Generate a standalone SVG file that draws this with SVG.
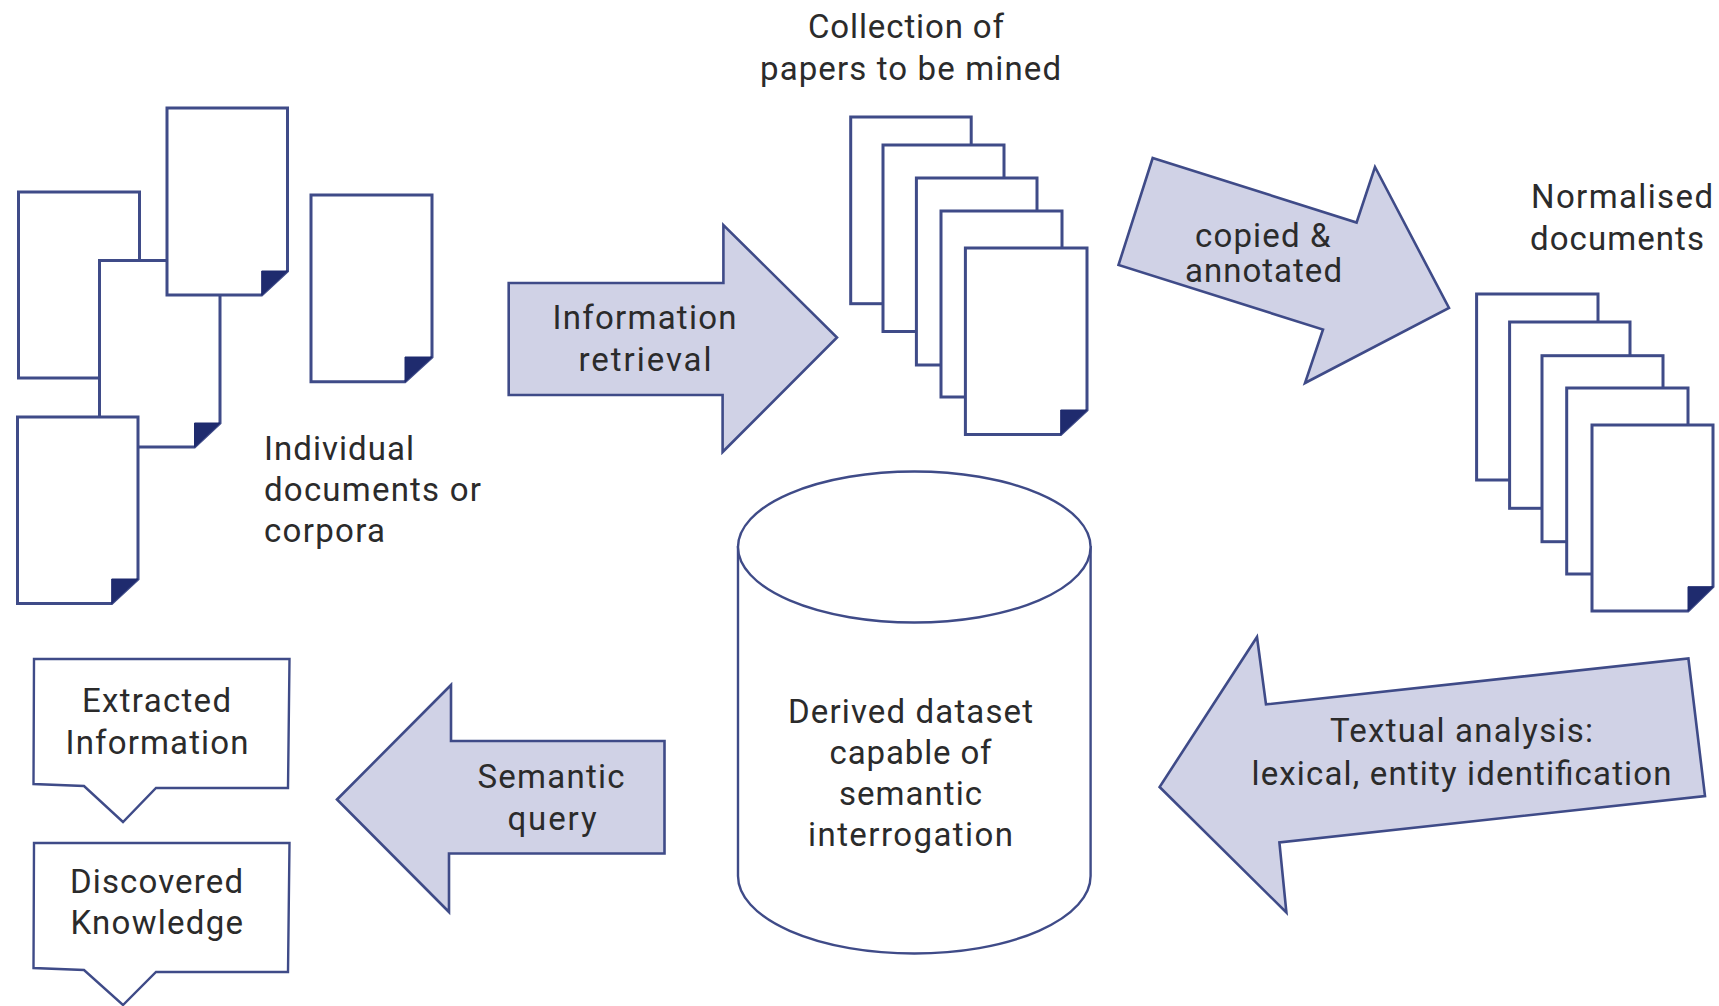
<svg xmlns="http://www.w3.org/2000/svg" width="1719" height="1006" viewBox="0 0 1719 1006">
<style>
.bg{fill:#fff}
.sheet{fill:#fff;stroke:#3f4b88;stroke-width:3;stroke-linejoin:miter}
.fold{fill:#1f2b6e;stroke:#1f2b6e;stroke-width:1}
.arrow{fill:#d0d2e6;stroke:#3f4b88;stroke-width:2.6;stroke-linejoin:miter}
.thin{fill:#fff;stroke:#3f4b88;stroke-width:2.4}
text{font-family:"Roboto","Liberation Sans",sans-serif;font-size:33px;fill:#2b2b2b}
</style>
<rect class="bg" width="1719" height="1006"/>
<g id="individual-documents">
<rect class="sheet" x="18.5" y="192" width="121" height="186"/>
<path class="sheet" d="M99.500 260.500H220V423L194.500 447H99.500Z"/><path class="fold" d="M194.500 423H220L194.500 447Z"/>
<path class="sheet" d="M167 108H287.500V271L261.700 295H167Z"/><path class="fold" d="M261.700 271H287.500L261.700 295Z"/>
<path class="sheet" d="M311 195H432V357L405 381.700H311Z"/><path class="fold" d="M405 357H432L405 381.700Z"/>
<path class="sheet" d="M17.500 416.900H138V579L111.700 603.500H17.500Z"/><path class="fold" d="M111.700 579H138L111.700 603.500Z"/>
<text x="264" y="459.500" textLength="150">Individual</text>
<text x="264" y="501" textLength="217">documents or</text>
<text x="264" y="542" textLength="121">corpora</text>
</g>
<g id="collection">
<text x="808" y="38" textLength="196">Collection of</text>
<text x="760" y="80" textLength="301">papers to be mined</text>
<rect class="sheet" x="850.700" y="117" width="120.500" height="186.700"/>
<rect class="sheet" x="883" y="145" width="121" height="186.500"/>
<rect class="sheet" x="916.400" y="178" width="120.600" height="187"/>
<rect class="sheet" x="941" y="211" width="121" height="186"/>
<path class="sheet" d="M965.400 248H1087V410L1060.700 434.500H965.400Z"/><path class="fold" d="M1060.700 410H1087L1060.700 434.500Z"/>
</g>
<g id="normalised">
<text x="1531" y="207.500" textLength="182">Normalised</text>
<text x="1530" y="250" textLength="174">documents</text>
<rect class="sheet" x="1476.600" y="294" width="121.400" height="186"/>
<rect class="sheet" x="1509.600" y="322" width="120.400" height="186.300"/>
<rect class="sheet" x="1542" y="355.700" width="121" height="186"/>
<rect class="sheet" x="1566.700" y="388" width="121.300" height="186"/>
<path class="sheet" d="M1592 425H1713V586.700L1688 611H1592Z"/><path class="fold" d="M1688 586.700H1713L1688 611Z"/>
</g>
<g id="dataset">
<path class="thin" d="M738 546V876A176.300 77.500 0 0 0 1090.600 876V546"/>
<ellipse class="thin" cx="914.300" cy="547" rx="176.300" ry="75.500"/>
<text x="788" y="723" textLength="245">Derived dataset</text>
<text x="829.600" y="764" textLength="162">capable of</text>
<text x="839" y="805" textLength="143">semantic</text>
<text x="808" y="846" textLength="205">interrogation</text>
</g>
<g id="extracted-information">
<path class="thin" d="M34 659H289.500L288 788H156L123 822L84 786L33.500 784Z"/>
<text x="82" y="712" textLength="149">Extracted</text>
<text x="65.500" y="754" textLength="183">Information</text>
</g>
<g id="discovered-knowledge">
<path class="thin" d="M34 843H289.500L288 972H156L123 1005L84 970L33.500 968Z"/>
<text x="70" y="893" textLength="173">Discovered</text>
<text x="70.500" y="934" textLength="172.500">Knowledge</text>
</g>
<g id="connectors">
<g id="information-retrieval">
<path class="arrow" d="M508.700 283H723.400V225L837 337.500L722.600 452V395H508.700Z"/>
<text x="552.500" y="328.500" textLength="184">Information</text>
<text x="578.500" y="371" textLength="133">retrieval</text>
</g>
<g id="copied-annotated">
<path class="arrow" d="M1152.700 158L1356.600 222.500L1375 167L1449 308L1305 383L1323 329.500L1118.500 265Z"/>
<text x="1195" y="246.500" textLength="135.500">copied &amp;</text>
<text x="1185" y="282" textLength="157">annotated</text>
</g>
<g id="textual-analysis">
<path class="arrow" d="M1257 637L1266 704.400L1688.400 658.500L1705 796L1279.400 842.500L1286.400 912.500L1159.600 787Z"/>
<text x="1330" y="742" textLength="263">Textual analysis:</text>
<text x="1251.500" y="785" textLength="420">lexical, entity identification</text>
</g>
<g id="semantic-query">
<path class="arrow" d="M337 799.500L451 685V741H664.500V853.500H449V912Z"/>
<text x="477.500" y="788" textLength="147">Semantic</text>
<text x="507.500" y="830" textLength="89">query</text>
</g>
</g>
</svg>
